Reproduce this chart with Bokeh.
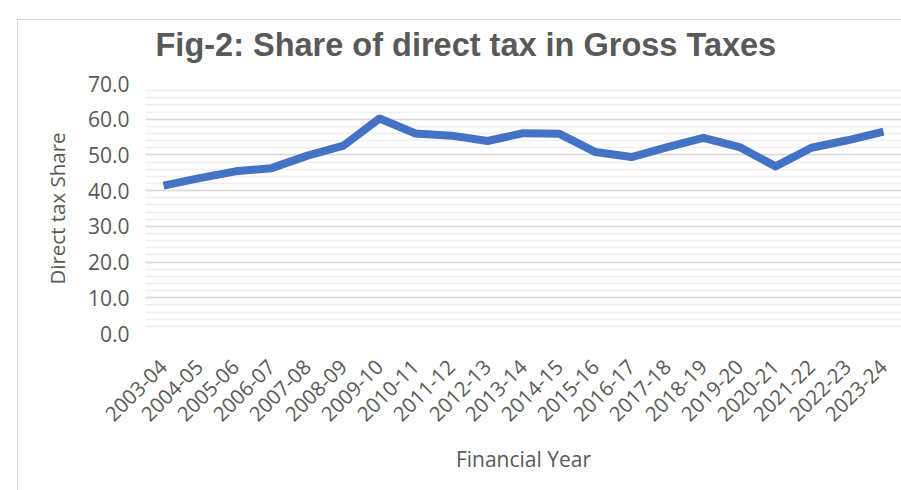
import math
from bokeh.plotting import figure
from bokeh.models import FactorRange, Range1d, FixedTicker, PrintfTickFormatter, ColumnDataSource
from bokeh.embed import file_html
from bokeh.resources import INLINE

years = ["2003-04", "2004-05", "2005-06", "2006-07", "2007-08", "2008-09", "2009-10",
         "2010-11", "2011-12", "2012-13", "2013-14", "2014-15", "2015-16", "2016-17",
         "2017-18", "2018-19", "2019-20", "2020-21", "2021-22", "2022-23", "2023-24"]
share = [41.4, 43.5, 45.4, 46.3, 49.8, 52.6, 60.2, 56.0, 55.4, 53.9, 56.1, 55.9,
         50.8, 49.4, 52.2, 54.8, 52.2, 46.8, 52.0, 54.1, 56.5]
major_ticks = [0, 10, 20, 30, 40, 50, 60, 70]
minor_ticks = list(range(0, 71, 2))
title_text = "Fig-2: Share of direct tax in Gross Taxes"

GREY = "#595959"
FONT = "Open Sans"
EDGE = "#d9d9d9"

src = ColumnDataSource(data=dict(year=years, share=share))

p = figure(width=901, height=490, output_backend="svg", toolbar_location=None,
           x_range=FactorRange(factors=years, range_padding=0),
           y_range=Range1d(0, 70),
           min_border_left=145, min_border_right=0, min_border_top=83, min_border_bottom=157,
           title=title_text)
# thin chart-area edge (left and top) drawn behind a transparent border fill
p.styles = {
    "background-color": "white",
    "background-image": f"linear-gradient({EDGE}, {EDGE}), linear-gradient({EDGE}, {EDGE})",
    "background-size": "calc(100% - 17px) 1px, 1px calc(100% - 19px)",
    "background-position": "17px 19px, 17px 19px",
    "background-repeat": "no-repeat",
}

p.line(x="year", y="share", source=src, line_color="#4472C4", line_width=8, line_join="round")

p.title.text_font = "Liberation Sans"
p.title.text_font_size = "32.5px"
p.title.text_font_style = "bold"
p.title.text_color = GREY
p.title.align = "left"
p.title.offset = 10
p.title.standoff = 41

p.outline_line_color = None
p.background_fill_color = "white"
p.border_fill_color = None

p.xgrid.grid_line_color = None
p.ygrid.ticker = FixedTicker(ticks=major_ticks, minor_ticks=minor_ticks)
p.ygrid.grid_line_color = "#d9d9d9"
p.ygrid.grid_line_width = 1.5
p.ygrid.minor_grid_line_color = "#efefef"
p.ygrid.minor_grid_line_width = 1.5

p.yaxis.ticker = FixedTicker(ticks=major_ticks)
p.yaxis.formatter = PrintfTickFormatter(format="%.1f")
for ax in (p.xaxis[0], p.yaxis[0]):
    ax.axis_line_color = None
    ax.major_tick_line_color = None
    ax.minor_tick_line_color = None
    ax.major_label_text_font = FONT
    ax.major_label_text_color = GREY
    ax.axis_label_text_font = FONT
    ax.axis_label_text_color = GREY
    ax.axis_label_text_font_style = "normal"

p.yaxis.major_label_text_font_size = "21px"
p.yaxis.major_label_standoff = 10
p.yaxis.axis_label = "Direct tax Share"
p.yaxis.axis_label_text_font_size = "20.5px"
p.yaxis.axis_label_standoff = 14

p.xaxis.major_label_orientation = math.pi / 4
p.xaxis.major_label_text_font_size = "20.5px"
p.xaxis.major_label_standoff = 24
p.xaxis.axis_label = "Financial Year"
p.xaxis.axis_label_text_font_size = "21px"
p.xaxis.axis_label_standoff = 14

open("out.html", "w").write(file_html(p, INLINE))
